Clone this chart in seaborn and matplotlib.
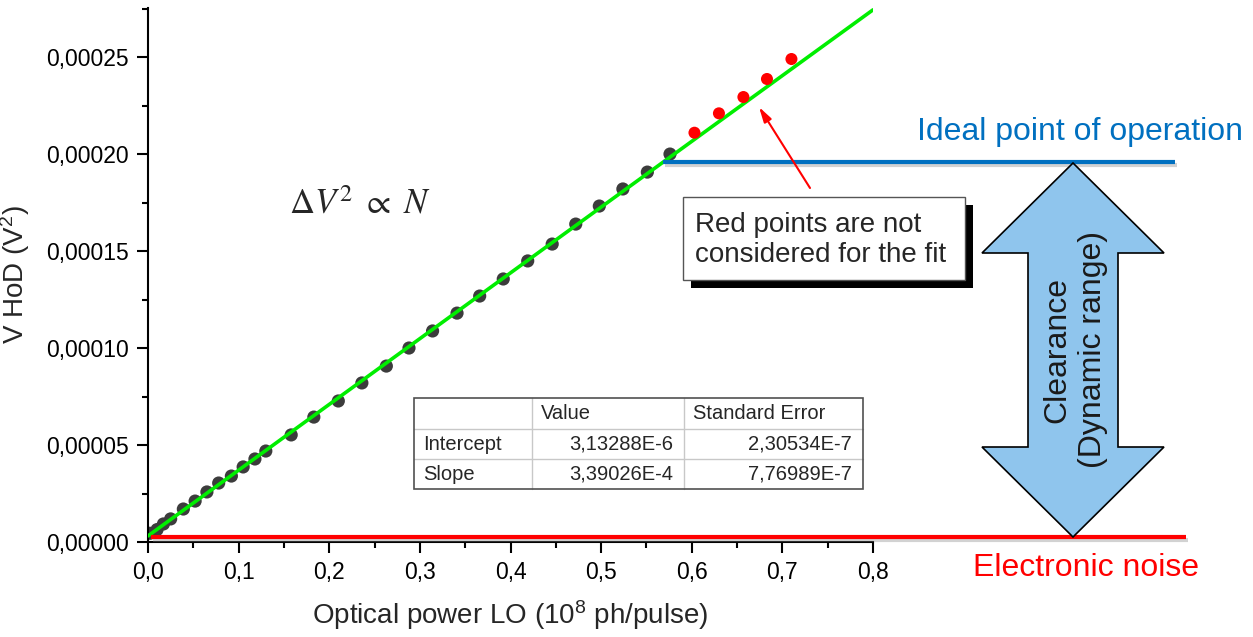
import numpy as np
import pandas as pd
import matplotlib
matplotlib.use("Agg")
import matplotlib.pyplot as plt
import seaborn as sns
from matplotlib.ticker import MultipleLocator, FuncFormatter
from matplotlib.patches import Polygon, Rectangle
import matplotlib.patheffects as pe

# ---------------- data ----------------
fit_x = [0.002, 0.010, 0.017, 0.025, 0.039, 0.052, 0.065, 0.078, 0.092, 0.105,
         0.118, 0.130, 0.158, 0.183, 0.210, 0.236, 0.263, 0.288, 0.314, 0.341,
         0.366, 0.392, 0.419, 0.446, 0.472, 0.498, 0.524, 0.551, 0.576]
fit_y = [4.5e-6, 6.4e-6, 9.3e-6, 1.19e-5, 1.70e-5, 2.11e-5, 2.58e-5, 3.04e-5, 3.40e-5, 3.87e-5,
         4.28e-5, 4.69e-5, 5.52e-5, 6.44e-5, 7.27e-5, 8.20e-5, 9.07e-5, 1.000e-4, 1.088e-4, 1.180e-4,
         1.268e-4, 1.356e-4, 1.449e-4, 1.536e-4, 1.639e-4, 1.732e-4, 1.820e-4, 1.907e-4, 2.000e-4]
excluded_x = [0.603, 0.630, 0.657, 0.683, 0.710]
excluded_y = [2.11e-4, 2.21e-4, 2.294e-4, 2.387e-4, 2.49e-4]

fit_intercept = 3.13288e-6
fit_slope = 3.39026e-4
fit_range = [0.0, 0.8]

noise_level = 2.6e-6
ideal_level = 1.96e-4

table_header = ["", "Value", "Standard Error"]
table_rows = ["Intercept", "Slope"]
table_values = [["3,13288E-6", "2,30534E-7"],
                ["3,39026E-4", "7,76989E-7"]]

x_label = r"Optical power LO (10$^{8}$ ph/pulse)"
y_label = r"V HoD (V$^{2}$)"
formula = r"$\Delta V^2\ \propto\ N$"
box_text = "Red points are not\nconsidered for the fit"
ideal_text = "Ideal point of operation"
noise_text = "Electronic noise"
arrow_text = "Clearance\n(Dynamic range)"

# ---------------- style ----------------
sns.set_style("ticks")
plt.rcParams["font.family"] = ["Liberation Sans", "DejaVu Sans"]
plt.rcParams["mathtext.fontset"] = "custom"
plt.rcParams["mathtext.rm"] = "Liberation Sans"
plt.rcParams["mathtext.it"] = "Liberation Sans:italic"
plt.rcParams["mathtext.bf"] = "Liberation Sans:bold"

W, H = 1253, 637
fig = plt.figure(figsize=(W / 100, H / 100), dpi=100)
ax = fig.add_axes([148 / W, 1 - 542 / H, 725 / W, 534 / H])

pts = pd.DataFrame({"x": fit_x, "y": fit_y})
bad = pd.DataFrame({"x": excluded_x, "y": excluded_y})
line_x = np.array(fit_range)
line = pd.DataFrame({"x": line_x, "y": fit_intercept + fit_slope * line_x})

sns.scatterplot(data=pts, x="x", y="y", color="#3c3c3c", s=90, edgecolor="none",
                ax=ax, zorder=2, legend=False)
sns.lineplot(data=line, x="x", y="y", color="#00ee00", lw=2.6, ax=ax, zorder=3)
sns.scatterplot(data=bad, x="x", y="y", color="#ff0000", s=75, edgecolor="none",
                ax=ax, zorder=4, legend=False)

shadow = [pe.SimpleLineShadow(offset=(1.5, -2), shadow_color="gray", alpha=0.35), pe.Normal()]
ax.plot([0.003, 1.145], [noise_level, noise_level], color="#ff0000", lw=3,
        clip_on=False, zorder=5, path_effects=shadow, solid_capstyle="butt")
ax.plot([0.568, 1.133], [ideal_level, ideal_level], color="#0070c0", lw=3,
        clip_on=False, zorder=5, path_effects=shadow, solid_capstyle="butt")

ax.set_xlim(0, 0.8)
ax.set_ylim(0, 2.753e-4)
ax.xaxis.set_major_locator(MultipleLocator(0.1))
ax.xaxis.set_minor_locator(MultipleLocator(0.05))
ax.yaxis.set_major_locator(MultipleLocator(5e-5))
ax.yaxis.set_minor_locator(MultipleLocator(2.5e-5))
ax.xaxis.set_major_formatter(FuncFormatter(lambda v, _: f"{v:.1f}".replace(".", ",")))
ax.yaxis.set_major_formatter(FuncFormatter(lambda v, _: f"{v:.5f}".replace(".", ",")))
ax.tick_params(axis="both", which="major", length=8, width=1.5, labelsize=16.5,
               pad=6, direction="out", color="black", labelcolor="black")
ax.tick_params(axis="both", which="minor", length=4.5, width=1.5, direction="out", color="black")
for s in ["top", "right"]:
    ax.spines[s].set_visible(False)
for s in ["left", "bottom"]:
    ax.spines[s].set_linewidth(1.5)
    ax.spines[s].set_color("black")
ax.set_xlabel(x_label, fontsize=20, labelpad=10)
ax.set_ylabel(y_label, fontsize=20, labelpad=10)
ax.patch.set_alpha(0)

ax.text(0.234, 1.74e-4, formula, fontsize=25, math_fontfamily="stix",
        ha="center", va="center")

# ---------------- overlay for annotations ----------------
ov = fig.add_axes([0, 0, 1, 1])
ov.set_xlim(0, W)
ov.set_ylim(H, 0)
ov.axis("off")
ov.patch.set_alpha(0)

# text box with shadow
ov.add_patch(Rectangle((691, 205), 282, 83, fc="black", ec="none", zorder=6))
ov.add_patch(Rectangle((683, 197), 282, 83, fc="white", ec="#555555", lw=1, zorder=7))
ov.text(695, 240, box_text, fontsize=20, ha="left", va="center", linespacing=1.25, zorder=8)

# red pointer arrow
ov.annotate("", xy=(759, 107), xytext=(810, 188),
            arrowprops=dict(arrowstyle="-|>,head_length=0.9,head_width=0.25",
                            color="#ff0000", lw=1.5, shrinkA=0, shrinkB=0), zorder=8)

# big double arrow
arrow_pts = [(1073, 163), (1164, 253), (1118, 253), (1118, 447), (1164, 447),
             (1073, 537), (982, 447), (1028, 447), (1028, 253), (982, 253)]
ov.add_patch(Polygon(arrow_pts, closed=True, fc="#8fc5ed", ec="black", lw=1.2, zorder=4))
ov.text(1075, 350, arrow_text, rotation=90, fontsize=23, ha="center", va="center",
        linespacing=1.25, color="#1a1a1a", zorder=5)

ov.text(1080, 132, ideal_text, fontsize=23, color="#0070c0", ha="center", va="center")
ov.text(1086, 568, noise_text, fontsize=23, color="#ff0000", ha="center", va="center")

# fit table
col_edges = [414, 532, 684, 863]
row_edges = [398, 429, 459, 489]
for xe in col_edges[1:-1]:
    ov.plot([xe, xe], [row_edges[0], row_edges[-1]], color="#c8c8c8", lw=1, zorder=6)
for ye in row_edges[1:-1]:
    ov.plot([col_edges[0], col_edges[-1]], [ye, ye], color="#c8c8c8", lw=1, zorder=6)
ov.add_patch(Rectangle((col_edges[0], row_edges[0]), col_edges[-1] - col_edges[0],
                       row_edges[-1] - row_edges[0], fc="none", ec="#505050", lw=1.2, zorder=7))
fs_tab = 14.5
for j, h in enumerate(table_header):
    if h:
        ov.text(col_edges[j] + 9, (row_edges[0] + row_edges[1]) / 2, h, fontsize=fs_tab,
                ha="left", va="center", zorder=8)
for i, rname in enumerate(table_rows):
    yc = (row_edges[i + 1] + row_edges[i + 2]) / 2
    ov.text(col_edges[0] + 9, yc, rname, fontsize=fs_tab, ha="left", va="center", zorder=8)
    for j, val in enumerate(table_values[i]):
        ov.text(col_edges[j + 2] - 11, yc, val, fontsize=fs_tab, ha="right", va="center", zorder=8)

fig.savefig("out.png", dpi=100)
